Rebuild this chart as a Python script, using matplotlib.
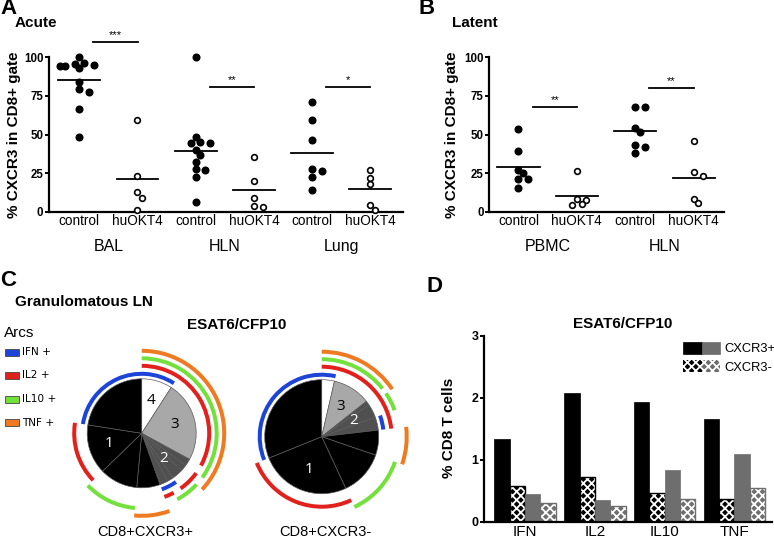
import numpy as np
import matplotlib
matplotlib.use('Agg')
import matplotlib.pyplot as plt
from matplotlib.patches import Wedge, Rectangle, Patch
from matplotlib.legend_handler import HandlerTuple

plt.rcParams['font.family'] = ['Liberation Sans', 'DejaVu Sans']
plt.rcParams['hatch.linewidth'] = 1.3

# ---------------- data ----------------
pair_labels = ['control', 'huOKT4']

acute_groups = ['BAL', 'HLN', 'Lung']
acute_bal_control = [100, 96.5, 95.7, 95.0, 94.6, 94.4, 92.9, 84.3, 79.5, 77.4, 66.4, 48.7]
acute_bal_huokt4 = [59.7, 23.5, 12.9, 9.3, 1.1]
acute_hln_control = [100, 48.7, 45.5, 44.4, 44.8, 40.1, 36.9, 32.1, 27.4, 28.0, 22.4, 6.5]
acute_hln_huokt4 = [35.8, 19.8, 9.3, 3.0, 3.7]
acute_lung_control = [71.3, 59.7, 46.3, 26.5, 28.0, 22.6, 14.2]
acute_lung_huokt4 = [27.4, 22.2, 18.1, 4.5, 1.5]
acute_sig = ['***', '**', '*']
acute_sig_level = [110, 81, 81]

latent_groups = ['PBMC', 'HLN']
latent_pbmc_control = [53.9, 39.7, 27.2, 25.0, 21.5, 21.1, 15.3]
latent_pbmc_huokt4 = [26.3, 8.4, 7.8, 5.0, 4.5]
latent_hln_control = [67.9, 68.1, 54.5, 52.0, 43.5, 42.2, 38.4]
latent_hln_huokt4 = [45.9, 25.6, 23.5, 8.2, 5.8]
latent_sig = ['**', '**']
latent_sig_level = [68, 80]

cytokines = ['IFN +', 'IL2 +', 'IL10 +', 'TNF +']
arc_colors = ['#1c44d8', '#e2211c', '#74e03c', '#f07a22']

# pie slices (clockwise from 12 o'clock): percent, category (# functions), flags IFN/IL2/IL10/TNF
pie1_values = [9.1, 23.8, 2.1, 1.9, 3.3, 1.9, 2.4, 6.9, 11.3, 14.7, 22.5]
pie1_category = [4, 3, 2, 2, 2, 2, 2, 1, 1, 1, 1]
pie1_flags = [(1, 1, 1, 1), (0, 1, 1, 1), (0, 0, 1, 1), (0, 1, 0, 1), (0, 1, 1, 0),
              (1, 0, 1, 0), (1, 1, 0, 0), (0, 0, 0, 1), (0, 0, 1, 0), (0, 1, 0, 0), (1, 0, 0, 0)]
pie1_labels = {0: '4', 1: '3', 4: '2', 9: '1'}

pie2_values = [3.6, 10.75, 1.2, 3.9, 3.7, 7.1, 12.8, 25.8, 31.1]
pie2_category = [4, 3, 2, 2, 2, 1, 1, 1, 1]
pie2_flags = [(1, 1, 1, 1), (0, 1, 1, 1), (0, 1, 0, 1), (0, 1, 1, 0), (1, 1, 0, 0),
              (0, 0, 0, 1), (0, 0, 1, 0), (0, 1, 0, 0), (1, 0, 0, 0)]
pie2_labels = {1: '3', 3: '2', 7: '1'}
pie_titles = ['CD8+CXCR3+', 'CD8+CXCR3-']

bar_categories = ['IFN', 'IL2', 'IL10', 'TNF']
cxcr3pos_black = [1.33, 2.08, 1.94, 1.66]
cxcr3neg_black = [0.57, 0.72, 0.47, 0.37]
cxcr3pos_gray = [0.44, 0.35, 0.83, 1.09]
cxcr3neg_gray = [0.30, 0.25, 0.37, 0.55]

# ---------------- figure ----------------
W, H = 774, 540
fig = plt.figure(figsize=(W / 100, H / 100), dpi=100)


def ax_px(l, t, r, b):
    return fig.add_axes([l / W, 1 - b / H, (r - l) / W, (b - t) / H])


def ftext(x, y, s, **kw):
    fig.text(x / W, 1 - y / H, s, **kw)


def swarm(ax, xc, vals, diam=6.6):
    vals = np.asarray(vals, float)
    pts = ax.transData.transform(np.column_stack([np.full(len(vals), xc), vals]))
    order = np.argsort(-vals, kind='stable')
    placed = []
    xs = np.zeros(len(vals))
    for idx in order:
        x0, y0 = pts[idx]
        cand = x0
        for k in [0, 1, -1, 2, -2, 3, -3, 4, -4]:
            cand = x0 + k * diam * 0.72
            if all((cand - px) ** 2 + (y0 - py) ** 2 >= (diam * 0.88) ** 2 for px, py in placed):
                break
        placed.append((cand, y0))
        xs[idx] = ax.transData.inverted().transform((cand, y0))[0]
    return xs


def dot_panel(ax, data, groups, sig, sig_level, xlim):
    ax.set_xlim(*xlim)
    ax.set_ylim(0, 100)
    for s in ['top', 'right']:
        ax.spines[s].set_visible(False)
    for s in ['left', 'bottom']:
        ax.spines[s].set_linewidth(1.6)
    ax.set_yticks([0, 25, 50, 75, 100])
    ax.tick_params(axis='y', length=3, width=1.4, pad=1, labelsize=8.3)
    for t in ax.get_yticklabels():
        t.set_fontweight('bold')
    ax.set_xticks(range(len(data)))
    ax.set_xticklabels(pair_labels * len(groups), fontsize=9.8)
    ax.tick_params(axis='x', length=0, pad=1.5)
    for i, vals in enumerate(data):
        filled = i % 2 == 0
        xs = swarm(ax, i, vals)
        ax.scatter(xs, vals, s=21 if filled else 17, facecolor='black' if filled else 'white',
                   edgecolor='black', linewidth=1.2, zorder=3, clip_on=False)
        m = np.mean(vals)
        ax.plot([i - 0.36, i + 0.36], [m, m], color='black', lw=1.3, zorder=2)
    for g, name in enumerate(groups):
        ax.text(2 * g + 0.5, -0.22, name, transform=ax.get_xaxis_transform(),
                ha='center', va='center', fontsize=11.5)
        ax.plot([2 * g + 0.24, 2 * g + 1.0], [sig_level[g]] * 2, color='black', lw=1.3, clip_on=False)
        ax.text(2 * g + 0.62, sig_level[g] + 1.2, sig[g], ha='center', va='bottom', fontsize=8, clip_on=False)


# Panel A
axA = ax_px(49, 57.3, 403, 212)
dot_panel(axA, [acute_bal_control, acute_bal_huokt4, acute_hln_control, acute_hln_huokt4,
                acute_lung_control, acute_lung_huokt4], acute_groups, acute_sig, acute_sig_level,
          (-0.52, 5.56))
ftext(14, 135, '% CXCR3 in CD8+ gate', rotation=90, ha='center', va='center', fontsize=11, fontweight='bold')
ftext(0, 9, 'A', fontsize=16, fontweight='bold', ha='left', va='center')
ftext(15, 23, 'Acute', fontsize=11, fontweight='bold', ha='left', va='center')

# Panel B
axB = ax_px(489.3, 57.3, 724, 212)
dot_panel(axB, [latent_pbmc_control, latent_pbmc_huokt4, latent_hln_control, latent_hln_huokt4],
          latent_groups, latent_sig, latent_sig_level, (-0.5, 3.52))
ftext(452, 135, '% CXCR3 in CD8+ gate', rotation=90, ha='center', va='center', fontsize=11, fontweight='bold')
ftext(418, 9, 'B', fontsize=16, fontweight='bold', ha='left', va='center')
ftext(452, 23, 'Latent', fontsize=11, fontweight='bold', ha='left', va='center')

# Panel C
ftext(0, 281, 'C', fontsize=16, fontweight='bold', ha='left', va='center')
ftext(15, 302, 'Granulomatous LN', fontsize=11, fontweight='bold', ha='left', va='center')
ftext(237, 325, 'ESAT6/CFP10', fontsize=11, fontweight='bold', ha='center', va='center')
ftext(4, 333, 'Arcs', fontsize=11, ha='left', va='center')
for k, (name, col) in enumerate(zip(cytokines, arc_colors)):
    yk = 352 + k * 23.5
    fig.add_artist(Rectangle((5 / W, 1 - (yk + 3.5) / H), 14 / W, 7 / H, transform=fig.transFigure,
                             facecolor=col, edgecolor='#444444', linewidth=0.6))
    ftext(22, yk, name, fontsize=7.6, ha='left', va='center', family='DejaVu Sans')

ring_offsets = [5, 13, 20.5, 28]
slice_colors = {4: '#ffffff', 3: '#a8a8a8', 2: '#505050', 1: '#000000'}


def spice_pie(cx, cy, r, values, category, flags, labels, title):
    ax = ax_px(cx - 100, cy - 100, cx + 100, cy + 100)
    cols = [slice_colors[c] for c in category]
    ax.pie(values, colors=cols, startangle=90, counterclock=False, radius=r,
           wedgeprops=dict(edgecolor='#5a5a5a', linewidth=0.5))
    ax.set_xlim(-100, 100)
    ax.set_ylim(-100, 100)
    ax.axis('off')
    v = np.asarray(values, float)
    edges = np.concatenate([[0], np.cumsum(v)]) / v.sum() * 360
    n = len(values)
    for c in range(4):
        on = [f[c] == 1 for f in flags]
        runs = []
        i = 0
        while i < n:
            if on[i]:
                j = i
                while j + 1 < n and on[j + 1]:
                    j += 1
                runs.append([edges[i], edges[j + 1]])
                i = j + 1
            else:
                i += 1
        if len(runs) > 1 and on[0] and on[-1]:
            first = runs.pop(0)
            runs[-1][1] = 360 + first[1]
        rr = r + ring_offsets[c]
        for a1, a2 in runs:
            ax.add_patch(Wedge((0, 0), rr + 2, 90 - a2, 90 - a1, width=4,
                               facecolor=arc_colors[c], edgecolor='none'))
    for idx, lab in labels.items():
        mid = (edges[idx] + edges[idx + 1]) / 2
        frac = 0.62
        th = np.deg2rad(90 - mid)
        col = 'black' if category[idx] >= 3 else 'white'
        ax.text(frac * r * np.cos(th), frac * r * np.sin(th), lab, color=col, fontsize=11,
                ha='center', va='center', family='Open Sans')
    ftext(cx + 4, 532, title, fontsize=10.5, ha='center', va='center')


spice_pie(141.7, 433.3, 54.5, pie1_values, pie1_category, pie1_flags, pie1_labels, pie_titles[0])
spice_pie(321.7, 436.7, 57, pie2_values, pie2_category, pie2_flags, pie2_labels, pie_titles[1])

# Panel D
axD = ax_px(484, 336, 772, 521.7)
x = np.arange(len(bar_categories))
bw = 0.22
gray = '#6e6e6e'
series = [(cxcr3pos_black, 'black', False), (cxcr3neg_black, 'black', True),
          (cxcr3pos_gray, gray, False), (cxcr3neg_gray, gray, True)]
for k, (vals, col, chk) in enumerate(series):
    pos = x + (k - 1.5) * bw
    if chk:
        axD.bar(pos, vals, bw, color=col, edgecolor='white', linewidth=0, hatch='xxxx')
        axD.bar(pos, vals, bw, fill=False, edgecolor=col, linewidth=1.0)
    else:
        axD.bar(pos, vals, bw, color=col, edgecolor=col, linewidth=0.5)
axD.set_xlim(-0.59, 3.54)
axD.set_ylim(0, 3)
for s in ['top', 'right']:
    axD.spines[s].set_visible(False)
for s in ['left', 'bottom']:
    axD.spines[s].set_linewidth(1.6)
axD.set_yticks([0, 1, 2, 3])
axD.tick_params(axis='y', length=3, width=1.4, pad=1, labelsize=9)
for t in axD.get_yticklabels():
    t.set_fontweight('bold')
axD.set_xticks(x)
axD.set_xticklabels(bar_categories, fontsize=11)
axD.tick_params(axis='x', length=0, pad=2.5)
ftext(449, 428, '% CD8 T cells', rotation=90, ha='center', va='center', fontsize=11, fontweight='bold')
ftext(623, 324, 'ESAT6/CFP10', fontsize=11, fontweight='bold', ha='center', va='center')
ftext(427, 287, 'D', fontsize=16, fontweight='bold', ha='left', va='center')
h_pos = (Patch(facecolor='black', edgecolor='black', linewidth=0.5), Patch(facecolor=gray, edgecolor=gray, linewidth=0.5))
h_neg = (Patch(facecolor='black', edgecolor='white', linewidth=0, hatch='xxxx'),
         Patch(facecolor=gray, edgecolor='white', linewidth=0, hatch='xxxx'))
axD.legend([h_pos, h_neg], ['CXCR3+', 'CXCR3-'], handler_map={tuple: HandlerTuple(ndivide=None, pad=0)},
           loc='upper left', bbox_to_anchor=(683 / W, 1 - 342 / H), bbox_transform=fig.transFigure,
           frameon=False, fontsize=9.3, handlelength=2.9, handleheight=1.0, handletextpad=0.3,
           labelspacing=0.4, borderpad=0, borderaxespad=0)

fig.savefig('out.png', dpi=100)
